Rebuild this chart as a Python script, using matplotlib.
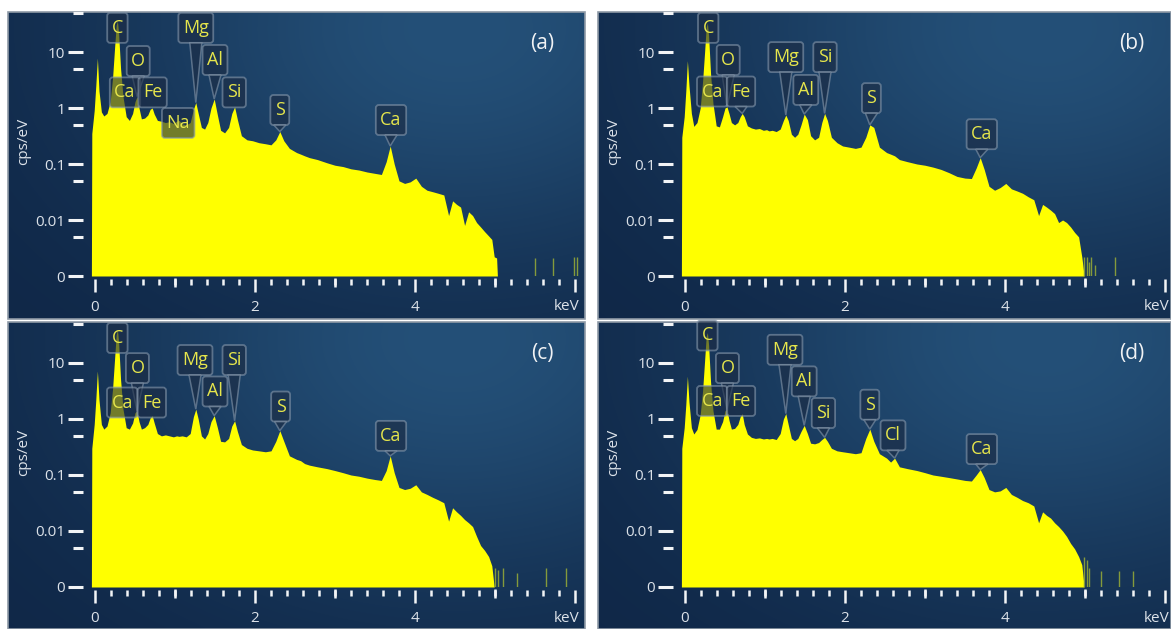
import numpy as np
import matplotlib

matplotlib.use("Agg")
import matplotlib.pyplot as plt
from matplotlib.patches import FancyBboxPatch, Polygon, Rectangle
from matplotlib.ticker import NullFormatter
from matplotlib.transforms import IdentityTransform

plt.rcParams["font.family"] = ["Open Sans", "DejaVu Sans"]

W, H, DPI = 1171, 629, 100

# Shared energy grid (keV) for the four EDS spectra
ENERGY = [
    -0.045, -0.04, -0.01, 0.01, 0.03, 0.05, 0.08, 0.11, 0.15, 0.19,
    0.22, 0.245, 0.265, 0.28, 0.295, 0.32, 0.35, 0.39, 0.43, 0.47,
    0.5, 0.525, 0.55, 0.58, 0.62, 0.66, 0.69, 0.715, 0.74, 0.78,
    0.83, 0.88, 0.93, 0.98, 1.02, 1.05, 1.09, 1.14, 1.19, 1.23,
    1.26, 1.29, 1.33, 1.37, 1.41, 1.45, 1.49, 1.53, 1.57, 1.62,
    1.67, 1.71, 1.745, 1.78, 1.83, 1.9, 1.97, 2.05, 2.13, 2.2,
    2.26, 2.31, 2.36, 2.43, 2.52, 2.57, 2.62, 2.68, 2.78, 2.9,
    3.0, 3.1, 3.2, 3.3, 3.4, 3.5, 3.58, 3.64, 3.69, 3.74,
    3.8, 3.87, 3.94, 4.01, 4.08, 4.15, 4.22, 4.29, 4.36, 4.42,
    4.47, 4.52, 4.57, 4.62, 4.67, 4.72, 4.77, 4.82, 4.87, 4.92,
    4.96, 4.99, 5.02, 5.03, 5.05,
]

# Count rates (cps/eV)
CPS_A = [
    0.001, 0.35, 0.9, 2.5, 7.8, 2.0, 0.85, 0.72, 0.8, 1.3,
    3.5, 12, 30, 36, 22, 5.0, 1.6, 0.7, 0.6, 0.8,
    1.3, 1.6, 1.0, 0.64, 0.66, 0.75, 0.95, 1.0, 0.78, 0.6,
    0.58, 0.55, 0.57, 0.53, 0.58, 0.6, 0.52, 0.5, 0.55, 0.95,
    1.25, 0.8, 0.45, 0.42, 0.55, 1.0, 1.45, 0.75, 0.4, 0.36,
    0.45, 0.8, 1.05, 0.62, 0.32, 0.27, 0.26, 0.24, 0.23, 0.22,
    0.27, 0.38, 0.26, 0.19, 0.16, 0.15, 0.14, 0.13, 0.12, 0.105,
    0.095, 0.09, 0.082, 0.078, 0.072, 0.068, 0.065, 0.11, 0.21, 0.1,
    0.05, 0.045, 0.048, 0.056, 0.04, 0.034, 0.032, 0.03, 0.028, 0.012,
    0.022, 0.019, 0.017, 0.008, 0.014, 0.012, 0.009, 0.0075, 0.0062, 0.0052,
    0.0045, 0.0022, 0.0021, 0.001, 0.001,
]
CPS_B = [
    0.001, 0.3, 0.7, 2.0, 7.0, 2.5, 0.8, 0.47, 0.55, 1.0,
    3.0, 10, 28, 33, 20, 4.0, 1.2, 0.48, 0.46, 0.7,
    1.0, 1.05, 0.8, 0.55, 0.5, 0.55, 0.7, 0.8, 0.7, 0.48,
    0.44, 0.42, 0.43, 0.4, 0.41, 0.39, 0.4, 0.38, 0.42, 0.6,
    0.75, 0.6, 0.34, 0.3, 0.34, 0.5, 0.78, 0.62, 0.32, 0.27,
    0.3, 0.55, 0.8, 0.6, 0.3, 0.24, 0.21, 0.2, 0.19, 0.2,
    0.3, 0.5, 0.45, 0.2, 0.16, 0.15, 0.14, 0.12, 0.11, 0.1,
    0.095, 0.088, 0.08, 0.07, 0.06, 0.056, 0.055, 0.085, 0.13, 0.08,
    0.04, 0.034, 0.038, 0.045, 0.036, 0.033, 0.03, 0.026, 0.023, 0.012,
    0.019, 0.017, 0.015, 0.013, 0.009, 0.01, 0.009, 0.0075, 0.006, 0.005,
    0.0022, 0.001, 0.001, 0.001, 0.001,
]
CPS_C = [
    0.001, 0.3, 0.8, 2.2, 7.2, 2.2, 0.8, 0.66, 0.75, 1.3,
    3.5, 12, 32, 40, 24, 5.0, 1.5, 0.7, 0.66, 0.85,
    1.3, 1.4, 0.9, 0.66, 0.7, 0.8, 1.05, 1.15, 0.85, 0.55,
    0.5, 0.52, 0.5, 0.48, 0.5, 0.49, 0.5, 0.48, 0.55, 1.1,
    1.5, 1.0, 0.5, 0.44, 0.55, 0.9, 1.15, 0.7, 0.4, 0.39,
    0.45, 0.75, 0.93, 0.6, 0.35, 0.3, 0.28, 0.27, 0.26, 0.27,
    0.4, 0.62, 0.4, 0.22, 0.19, 0.18, 0.16, 0.15, 0.14, 0.13,
    0.12, 0.11, 0.1, 0.095, 0.088, 0.083, 0.08, 0.12, 0.22, 0.11,
    0.06, 0.055, 0.058, 0.067, 0.05, 0.045, 0.04, 0.036, 0.032, 0.015,
    0.026, 0.022, 0.019, 0.016, 0.014, 0.012, 0.008, 0.0055, 0.0045, 0.0035,
    0.0024, 0.001, 0.001, 0.001, 0.001,
]
CPS_D = [
    0.001, 0.3, 0.7, 1.8, 5.8, 2.0, 0.7, 0.54, 0.65, 1.2,
    3.2, 11, 30, 35, 21, 4.5, 1.4, 0.66, 0.66, 0.9,
    1.4, 1.5, 0.95, 0.66, 0.68, 0.8, 1.1, 1.25, 0.8, 0.54,
    0.47, 0.45, 0.46, 0.44, 0.45, 0.44, 0.45, 0.43, 0.55, 1.0,
    1.25, 0.8, 0.45, 0.41, 0.45, 0.6, 0.77, 0.55, 0.37, 0.36,
    0.38, 0.43, 0.47, 0.4, 0.3, 0.27, 0.26, 0.25, 0.24, 0.25,
    0.45, 0.66, 0.4, 0.24, 0.2, 0.17, 0.2, 0.14, 0.13, 0.12,
    0.11, 0.1, 0.095, 0.09, 0.085, 0.08, 0.078, 0.1, 0.125, 0.09,
    0.055, 0.05, 0.052, 0.06, 0.045, 0.04, 0.035, 0.032, 0.028, 0.014,
    0.022, 0.019, 0.017, 0.014, 0.012, 0.01, 0.008, 0.006, 0.0048, 0.0035,
    0.0025, 0.001, 0.001, 0.001, 0.001,
]

# Isolated high-energy counts past the end of the continuum
TAIL_A = [5.5, 5.73, 5.99, 6.02]
TAIL_CPS_A = [0.0021, 0.0021, 0.0022, 0.0022]
TAIL_B = [4.99, 5.02, 5.05, 5.08, 5.12, 5.37]
TAIL_CPS_B = [0.0022, 0.0022, 0.0018, 0.0022, 0.0016, 0.0022]
TAIL_C = [5.0, 5.04, 5.1, 5.28, 5.64, 5.89]
TAIL_CPS_C = [0.0022, 0.002, 0.0022, 0.0018, 0.0022, 0.0022]
TAIL_D = [4.99, 5.02, 5.05, 5.2, 5.42, 5.6]
TAIL_CPS_D = [0.0035, 0.003, 0.0022, 0.0019, 0.0019, 0.0019]

# Peak callouts: element, box centre (keV, cps/eV), peak energy the pointer goes to
LABELS_A = [
    ("C", 0.28, 27, 0.28), ("O", 0.54, 6.9, 0.525), ("Ca", 0.375, 1.9, 0.35),
    ("Fe", 0.72, 1.9, 0.715), ("Na", 1.04, 0.54, 1.04), ("Mg", 1.26, 27, 1.26),
    ("Al", 1.5, 7.2, 1.49), ("Si", 1.74, 1.9, 1.745), ("S", 2.31, 0.92, 2.31),
    ("Ca", 3.7, 0.61, 3.69),
]
LABELS_B = [
    ("C", 0.29, 27, 0.28), ("O", 0.54, 7.2, 0.525), ("Ca", 0.34, 1.97, 0.35),
    ("Fe", 0.70, 1.97, 0.715), ("Mg", 1.26, 8.1, 1.26), ("Al", 1.51, 2.1, 1.49),
    ("Si", 1.75, 8.1, 1.745), ("S", 2.33, 1.5, 2.31), ("Ca", 3.71, 0.34, 3.69),
]
LABELS_C = [
    ("C", 0.28, 28, 0.28), ("O", 0.53, 8.1, 0.525), ("Ca", 0.34, 1.97, 0.35),
    ("Fe", 0.71, 1.97, 0.715), ("Mg", 1.25, 11.3, 1.26), ("Al", 1.5, 3.1, 1.49),
    ("Si", 1.74, 11.3, 1.745), ("S", 2.32, 1.67, 2.31), ("Ca", 3.7, 0.5, 3.69),
]
LABELS_D = [
    ("C", 0.28, 31, 0.28), ("O", 0.53, 8.1, 0.525), ("Ca", 0.34, 2.1, 0.35),
    ("Fe", 0.70, 2.1, 0.715), ("Mg", 1.25, 17.2, 1.26), ("Al", 1.49, 4.7, 1.49),
    ("Si", 1.73, 1.28, 1.745), ("S", 2.31, 1.8, 2.31), ("Cl", 2.6, 0.51, 2.62),
    ("Ca", 3.71, 0.29, 3.69),
]

YTICKS = [1e-3, 1e-2, 1e-1, 1, 10]
YTICK_LABELS = ["0", "0.01", "0.1", "1", "10"]

YELLOW = "#ffff00"
LABEL_TEXT = "#e6e64c"
BOX_FILL = "#1c2c44"
BOX_EDGE = "#8496aa"
TICK = "#f2f4f6"
TICK_TEXT = "#dce2e9"
TAIL_COLOR = "#849a3c"
DARK = np.array([15, 38, 70]) / 255
LIGHT = np.array([36, 80, 120]) / 255

PANELS = [
    # letter, spectrum, tail, tail cps, labels, panel box px (x0, y0, x1, y1), keV origin px, baseline px
    ("(a)", CPS_A, TAIL_A, TAIL_CPS_A, LABELS_A, (8, 12, 585, 319), 95, 276),
    ("(b)", CPS_B, TAIL_B, TAIL_CPS_B, LABELS_B, (598, 12, 1171, 319), 685, 276),
    ("(c)", CPS_C, TAIL_C, TAIL_CPS_C, LABELS_C, (8, 322, 585, 629), 95, 587),
    ("(d)", CPS_D, TAIL_D, TAIL_CPS_D, LABELS_D, (598, 322, 1171, 629), 685, 587),
]

PX_PER_KEV = 80
PX_PER_DECADE = 56
XLIM = (-0.05, 6.06)
YLIM = (1e-3, 10 ** (-3 + 264 / PX_PER_DECADE))


def fig_rect(x0, y0, x1, y1):
    return [x0 / W, 1 - y1 / H, (x1 - x0) / W, (y1 - y0) / H]


def draw_background(fig, box):
    bg = fig.add_axes(fig_rect(*box), zorder=0)
    gx, gy = np.meshgrid(np.linspace(0, 1, 160), np.linspace(1, 0, 90))
    glow = np.exp(-(((gx - 0.78) / 0.6) ** 2 + ((gy - 0.95) / 0.8) ** 2))
    img = DARK + (LIGHT - DARK) * glow[..., None]
    bg.imshow(img, extent=(0, 1, 0, 1), aspect="auto", interpolation="bilinear")
    bg.add_patch(Rectangle((0, 0), 1, 1, transform=bg.transAxes, fill=False,
                           ec="#8f9aa6", lw=1.2, clip_on=False))
    bg.set_axis_off()


def draw_callouts(fig, ax, labels, cps):
    renderer = fig.canvas.get_renderer()
    log_cps = np.log10(cps)
    for text, bx, by, tip_e in labels:
        cx, cy = ax.transData.transform((bx, by))
        tip_val = 10 ** np.interp(tip_e, ENERGY, log_cps)
        tx, ty = ax.transData.transform((tip_e, tip_val))
        t = ax.text(cx, cy, text, transform=IdentityTransform(), ha="center",
                    va="center", fontsize=13, color=LABEL_TEXT, zorder=6)
        tw = t.get_window_extent(renderer=renderer).width
        w, h = tw + 9, 30
        ax.add_patch(FancyBboxPatch((cx - w / 2, cy - h / 2), w, h,
                                    boxstyle="round,pad=0,rounding_size=3",
                                    transform=IdentityTransform(), fc=BOX_FILL,
                                    ec=BOX_EDGE, lw=1.3, alpha=0.62,
                                    clip_on=False, zorder=5))
        base = cy - h / 2
        if ty < base - 2:
            ax.add_patch(Polygon([(cx - 6, base), (cx + 6, base), (tx, ty)],
                                 closed=True, transform=IdentityTransform(),
                                 fc=BOX_FILL, ec=BOX_EDGE, lw=1.1, alpha=0.62,
                                 clip_on=False, zorder=5))


def draw_panel(fig, letter, cps, tail, tail_cps, labels, box, x_origin, baseline):
    draw_background(fig, box)
    left = x_origin + XLIM[0] * PX_PER_KEV
    right = x_origin + XLIM[1] * PX_PER_KEV
    ax = fig.add_axes(fig_rect(left, baseline - 264, right, baseline), zorder=1)
    ax.set_facecolor("none")

    ax.fill_between(ENERGY, YLIM[0], cps, color=YELLOW, lw=0, zorder=2)
    ax.vlines(tail, YLIM[0], tail_cps, color=TAIL_COLOR, lw=1.0, zorder=2)

    ax.set_yscale("log")
    ax.set_xlim(*XLIM)
    ax.set_ylim(*YLIM)
    ax.set_yticks(YTICKS, YTICK_LABELS)
    ax.set_yticks([5e-3, 5e-2, 0.5, 5, 50], minor=True)
    ax.yaxis.set_minor_formatter(NullFormatter())
    ax.set_xticks([0, 2, 4, 6], ["0", "2", "4", ""])
    ax.set_xticks(np.arange(0, 6.01, 0.2), minor=True)

    for spine in ax.spines.values():
        spine.set_visible(False)
    ax.spines["left"].set_position(("outward", 6))
    ax.spines["bottom"].set_position(("outward", 2))

    ax.tick_params(axis="y", which="major", length=10.5, width=2.2, color=TICK,
                   pad=2, labelsize=11, labelcolor=TICK_TEXT)
    ax.tick_params(axis="y", which="minor", length=7, width=2.2, color=TICK)
    ax.tick_params(axis="x", which="major", length=9.4, width=1.8, color=TICK,
                   pad=6, labelsize=11, labelcolor=TICK_TEXT)
    ax.tick_params(axis="x", which="minor", length=4.4, width=1.8, color=TICK)

    mid = ax.secondary_xaxis(-2 / 264)
    mid.set_xticks([1, 3, 5])
    mid.tick_params(length=6.5, width=1.8, color=TICK, labelbottom=False)
    mid.spines["bottom"].set_visible(False)

    x0, y0, x1, y1 = box
    tick6 = x_origin + 6 * PX_PER_KEV
    fig.text((tick6 - 8) / W, 1 - (baseline + 31) / H, "keV", ha="center",
             va="center", fontsize=11, color=TICK_TEXT)
    fig.text((x0 + 16) / W, 1 - (baseline - 135) / H, "cps/eV", rotation=90,
             ha="center", va="center", fontsize=11, color=TICK_TEXT)
    fig.text((x0 + 534) / W, 1 - (y0 + 31) / H, letter, ha="center",
             va="center", fontsize=15, color="#f0f2f4")

    draw_callouts(fig, ax, labels, cps)


def main():
    for series in (CPS_A, CPS_B, CPS_C, CPS_D):
        assert len(series) == len(ENERGY)
    fig = plt.figure(figsize=(W / DPI, H / DPI), dpi=DPI, facecolor="white")
    for panel in PANELS:
        draw_panel(fig, *panel)
    fig.savefig("out.png", dpi=DPI, facecolor="white")
    plt.close(fig)


if __name__ == "__main__":
    main()
